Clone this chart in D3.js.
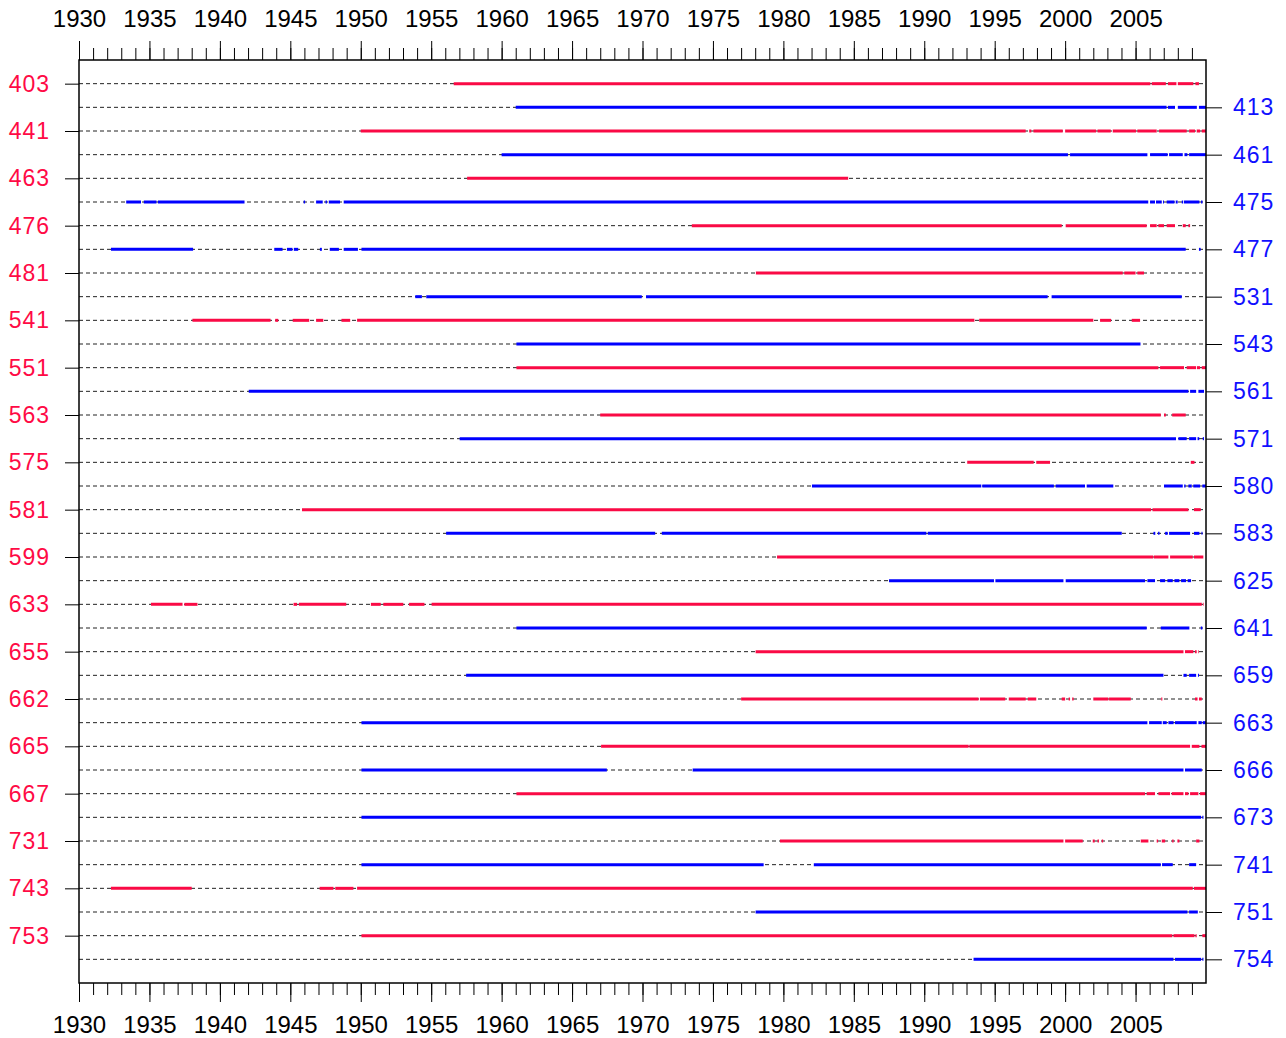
<!DOCTYPE html>
<html>
<head>
<meta charset="utf-8">
<script src="https://cdn.jsdelivr.net/npm/d3@7"></script>
<style>
  html, body { margin: 0; padding: 0; background: #fff; }
  svg { display: block; }
  text { font-family: "Liberation Sans", Arial, sans-serif; }
</style>
</head>
<body>
<svg id="chart" width="1286" height="1038"></svg>
<script>
// ---------- data ----------
const stationIds = ["403","413","441","461","463","475","476","477","481","531",
  "541","543","551","561","563","571","575","580","581","583","599","625","633",
  "641","655","659","662","663","665","666","667","673","731","741","743","751","753","754"];

// observation periods [startYear, endYear] for each station (same order)
const periods = [
  [[1956.6,2006.05],[2006.15,2007.15],[2007.3,2007.9],[2008.0,2009.1],[2009.25,2009.5]],
  [[1961.0,2007.2],[2007.3,2007.8],[2008.0,2009.35],[2009.5,2010]],
  [[1950.0,1997.2],[1997.45,1997.6],[1997.75,1999.83],[2000.0,2002.2],[2002.3,2003.24],[2003.38,2005.03],[2005.13,2006.5],[2006.67,2008.63],[2008.8,2009.22],[2009.34,2009.58],[2009.7,2010]],
  [[1960.0,2000.2],[2000.35,2005.84],[2006.03,2007.28],[2007.38,2008.35],[2008.47,2008.68],[2008.8,2010]],
  [[1957.55,1984.6]],
  [[1933.35,1934.4],[1934.6,1935.5],[1935.6,1941.75],[1945.95,1946.05],[1946.83,1947.3],[1947.5,1947.6],[1947.73,1948.53],[1948.79,2005.9],[2006.03,2006.38],[2006.45,2006.86],[2006.95,2007.02],[2007.21,2007.76],[2007.85,2007.99],[2008.28,2008.38],[2008.44,2009.53],[2009.65,2009.75]],
  [[1973.5,1999.76],[2000.04,2005.79],[2006.03,2006.5],[2006.62,2007.02],[2007.21,2007.8],[2008.35,2008.56],[2008.75,2008.87]],
  [[1932.27,1938.1],[1943.86,1944.45],[1944.76,1945.15],[1945.25,1945.56],[1947.1,1947.24],[1947.8,1948.45],[1948.79,1949.8],[1950.05,2008.56],[2009.5,2009.62]],
  [[1978.05,2004.09],[2004.2,2005.0],[2005.13,2005.6]],
  [[1953.87,1954.34],[1954.65,1969.95],[1970.25,1998.76],[1999.04,2008.28]],
  [[1938.05,1943.6],[1943.93,1944.14],[1945.17,1946.34],[1946.83,1947.34],[1948.63,1949.25],[1949.74,1993.56],[1993.9,2002.0],[2002.48,2003.26],[2004.73,2005.32]],
  [[1961.05,2005.35]],
  [[1961.05,2006.62],[2006.74,2008.44],[2008.63,2009.3],[2009.36,2009.58],[2009.7,2010]],
  [[1942.05,2008.75],[2008.87,2009.3],[2009.46,2009.86]],
  [[1967.0,2006.79],[2007.02,2007.15],[2007.6,2008.56]],
  [[1957.02,2007.87],[2008.04,2008.63],[2008.8,2009.3],[2009.4,2009.52],[2009.77,2009.86]],
  [[1993.05,1997.77],[1997.95,1998.93],[2008.92,2009.18]],
  [[1982.03,1994.05],[1994.12,1999.2],[1999.33,2001.41],[2001.53,2003.42],[2007.02,2008.35],[2008.45,2008.55],[2008.75,2008.99],[2009.1,2009.58],[2009.74,2010]],
  [[1945.83,2006.1],[2006.2,2008.75],[2009.15,2009.63]],
  [[1956.06,1970.9],[1971.37,1990.15],[1990.25,2004.02],[2006.27,2006.4],[2006.6,2006.7],[2007.1,2007.28],[2007.38,2008.87],[2009.15,2009.53],[2009.68,2009.75]],
  [[1979.55,2006.25],[2006.3,2007.33],[2007.45,2009.06],[2009.15,2009.81]],
  [[1987.5,1994.95],[1995.05,1999.88],[2000.04,2005.67],[2005.84,2006.38],[2006.74,2007.1],[2007.26,2007.64],[2007.76,2008.11],[2008.23,2008.58],[2008.7,2008.94]],
  [[1935.11,1937.35],[1937.48,1938.41],[1945.23,1945.48],[1945.61,1948.97],[1950.72,1951.42],[1951.6,1953.02],[1953.43,1954.52],[1955.03,2009.7],[2009.78,2009.83]],
  [[1961.05,2005.79],[2006.79,2008.82],[2009.63,2009.74]],
  [[1978.03,2008.4],[2008.51,2009.1],[2009.22,2009.34],[2009.43,2009.48]],
  [[1957.48,2006.98],[2008.4,2008.63],[2008.8,2009.3],[2009.43,2009.5]],
  [[1977.0,1993.85],[1993.95,1995.75],[1996.0,1997.2],[1997.35,1997.95],[1999.76,2000.0],[2000.25,2000.35],[2000.5,2000.6],[2002.0,2003.07],[2003.12,2004.66],[2006.82,2006.9],[2009.22,2009.4],[2009.5,2009.7]],
  [[1950.05,2005.84],[2005.96,2006.86],[2006.93,2007.21],[2007.33,2007.7],[2007.8,2009.34],[2009.46,2009.7],[2009.77,2010]],
  [[1967.06,1993.15],[1993.2,2008.87],[2008.99,2009.53],[2009.68,2010]],
  [[1950.05,1967.47],[1973.56,2008.4],[2008.51,2009.7]],
  [[1961.05,2005.67],[2005.79,2006.38],[2006.62,2007.45],[2007.57,2008.4],[2008.51,2008.75],[2008.87,2009.46],[2009.58,2010]],
  [[1950.05,2009.65],[2009.74,2009.82]],
  [[1979.76,1999.88],[2000.0,2001.25],[2001.96,2002.1],[2002.3,2002.4],[2002.6,2002.7],[2005.37,2005.91],[2006.5,2006.6],[2006.86,2007.1],[2007.6,2007.7],[2007.97,2008.11],[2009.3,2009.53]],
  [[1950.05,1978.6],[1982.16,2006.79],[2006.88,2007.64],[2008.8,2009.3]],
  [[1932.27,1938.0],[1947.08,1948.06],[1948.19,1949.48],[1949.74,2009.06],[2009.15,2010]],
  [[1978.03,2008.68],[2008.8,2009.42]],
  [[1950.05,2007.61],[2007.69,2009.18],[2009.25,2009.34],[2009.74,2010]],
  [[1993.5,2007.69],[2007.8,2009.65],[2009.74,2009.82]]
];

const yearDomain = [1930, 2010];
const majorYears = d3.range(1930, 2006, 5);   // labelled ticks
const minorYears = d3.range(1930, 2010, 1);   // every year
const leftStations = stationIds.filter((d, i) => i % 2 === 0);
const rightStations = stationIds.filter((d, i) => i % 2 === 1);

// ---------- layout ----------
const frame = { left: 79, right: 1206, top: 60, bottom: 983 };
const RED = "#fa0a45", BLUE = "#0000ff";
const RED_TXT = "#ff0a45", BLUE_TXT = "#1010ff";

const svg = d3.select("#chart");
const x = d3.scaleLinear().domain(yearDomain).range([frame.left, frame.right]);
const y = d3.scalePoint().domain(stationIds).range([frame.top, frame.bottom]).padding(1);

// dashed guide lines
svg.append("g").selectAll("line").data(stationIds).join("line")
  .attr("x1", frame.left).attr("x2", frame.right)
  .attr("y1", d => y(d)).attr("y2", d => y(d))
  .attr("stroke", "#222").attr("stroke-width", 1)
  .attr("stroke-dasharray", "4,3");

// data segments
const segs = [];
stationIds.forEach((id, i) => periods[i].forEach(p => segs.push({ id, i, s: p[0], e: p[1] })));
svg.append("g").selectAll("line").data(segs).join("line")
  .attr("x1", d => x(d.s)).attr("x2", d => x(d.e))
  .attr("y1", d => y(d.id)).attr("y2", d => y(d.id))
  .attr("stroke", d => d.i % 2 === 0 ? RED : BLUE)
  .attr("stroke-width", 3);

// frame
svg.append("rect")
  .attr("x", frame.left).attr("y", frame.top)
  .attr("width", frame.right - frame.left).attr("height", frame.bottom - frame.top)
  .attr("fill", "none").attr("stroke", "#000").attr("stroke-width", 1.5);

function styleAxis(g, size) {
  g.select(".domain").remove();
  g.selectAll("line").attr("stroke", "#000").attr("stroke-width", 1);
  g.selectAll("text").attr("font-size", size).attr("fill", "#000");
}

// top axis
svg.append("g").attr("transform", `translate(0,${frame.top})`)
  .call(d3.axisTop(x).tickValues(minorYears).tickSize(12).tickFormat(""))
  .call(g => styleAxis(g, 24));
svg.append("g").attr("transform", `translate(0,${frame.top})`)
  .call(d3.axisTop(x).tickValues(majorYears).tickSize(19).tickPadding(14).tickFormat(d3.format("d")))
  .call(g => styleAxis(g, 24));

// bottom axis
svg.append("g").attr("transform", `translate(0,${frame.bottom})`)
  .call(d3.axisBottom(x).tickValues(minorYears).tickSize(12).tickFormat(""))
  .call(g => styleAxis(g, 24));
svg.append("g").attr("transform", `translate(0,${frame.bottom})`)
  .call(d3.axisBottom(x).tickValues(majorYears).tickSize(19).tickPadding(14).tickFormat(d3.format("d")))
  .call(g => styleAxis(g, 24));

// left axis (red stations)
svg.append("g").attr("transform", `translate(${frame.left},0)`)
  .call(d3.axisLeft(y).tickValues(leftStations).tickSize(14).tickPadding(15))
  .call(g => { styleAxis(g, 23); g.selectAll("text").attr("fill", RED_TXT).attr("letter-spacing", 1); });

// right axis (blue stations)
svg.append("g").attr("transform", `translate(${frame.right},0)`)
  .call(d3.axisRight(y).tickValues(rightStations).tickSize(16).tickPadding(11))
  .call(g => { styleAxis(g, 23); g.selectAll("text").attr("fill", BLUE_TXT).attr("letter-spacing", 1); });
</script>
</body>
</html>
